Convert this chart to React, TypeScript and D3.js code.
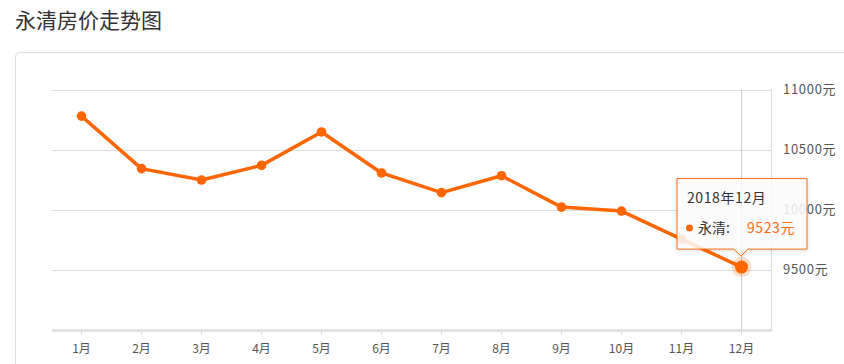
import React, { useRef, useEffect } from "react";
import * as d3 from "d3";

const months = ["1月", "2月", "3月", "4月", "5月", "6月", "7月", "8月", "9月", "10月", "11月", "12月"];
const prices = [10779, 10342, 10247, 10369, 10647, 10306, 10142, 10283, 10022, 9989, 9756, 9523];
const yTicks = [9500, 10000, 10500, 11000];
const cityName = "永清";
const tooltipTitle = "2018年12月";

const WIDTH = 844;
const HEIGHT = 364;
const ORANGE = "#ff6600";
const FONT = "'Noto Sans CJK SC', 'Noto Sans', sans-serif";

export default function App() {
  const ref = useRef<SVGSVGElement | null>(null);

  useEffect(() => {
    const root = d3.select(ref.current);
    root.selectAll("*").remove();
    root.attr("width", WIDTH).attr("height", HEIGHT);

    // title + card frame
    root
      .append("text")
      .attr("x", 15)
      .attr("y", 28)
      .attr("fill", "#333")
      .style("font-size", "21px")
      .text("永清房价走势图");
    root
      .append("rect")
      .attr("x", 15.5)
      .attr("y", 52.5)
      .attr("width", 900)
      .attr("height", 400)
      .attr("rx", 4)
      .attr("fill", "#fff")
      .attr("stroke", "#ddd");

    // scales
    const x = d3.scaleBand<string>().domain(months).range([51.5, 771.5]);
    const cx = (m: string) => (x(m) ?? 0) + x.bandwidth() / 2;
    const y = d3.scaleLinear().domain([9000, 11000]).range([330, 89.5]);

    // grid lines
    root
      .append("g")
      .selectAll("line")
      .data(yTicks)
      .enter()
      .append("line")
      .attr("x1", 52)
      .attr("x2", 771)
      .attr("y1", (d) => Math.round(y(d)) + 0.5)
      .attr("y2", (d) => Math.round(y(d)) + 0.5)
      .attr("stroke", "#ddd");
    root
      .append("line")
      .attr("x1", 771.5)
      .attr("x2", 771.5)
      .attr("y1", y(11000))
      .attr("y2", y(9000))
      .attr("stroke", "#ddd");

    // y labels on the right
    root
      .append("g")
      .selectAll("text")
      .data(yTicks)
      .enter()
      .append("text")
      .attr("x", 783)
      .attr("y", (d) => y(d) + 4.5)
      .attr("fill", "#555")
      .style("font-size", "13px")
      .style("letter-spacing", "0.7px")
      .text((d) => `${d}元`);

    // x axis
    const xAxis = root
      .append("g")
      .attr("transform", `translate(0,${y(9000)})`)
      .call(d3.axisBottom(x).tickSize(5).tickSizeOuter(0) as any);
    xAxis.select(".domain").attr("stroke", "#ddd").attr("stroke-width", 2.5);
    xAxis.selectAll(".tick line").attr("stroke", "#ddd");
    xAxis
      .selectAll(".tick text")
      .attr("y", 14)
      .attr("fill", "#555")
      .style("font-size", "12px")
      .style("font-family", FONT);

    // crosshair on hovered point
    const last = months.length - 1;
    const hx = Math.round(cx(months[last])) - 0.5;
    root
      .append("line")
      .attr("x1", hx)
      .attr("x2", hx)
      .attr("y1", y(11000))
      .attr("y2", y(9000))
      .attr("stroke", "#ccc");

    // line + points
    const line = d3
      .line<number>()
      .x((d, i) => cx(months[i]))
      .y((d) => y(d));
    root
      .append("path")
      .datum(prices)
      .attr("fill", "none")
      .attr("stroke", ORANGE)
      .attr("stroke-width", 3.5)
      .attr("stroke-linejoin", "round")
      .attr("d", line);
    root
      .append("g")
      .selectAll("circle")
      .data(prices)
      .enter()
      .append("circle")
      .attr("cx", (d, i) => cx(months[i]))
      .attr("cy", (d) => y(d))
      .attr("r", 4.8)
      .attr("fill", ORANGE);

    // highlighted point
    const px = cx(months[last]);
    const py = y(prices[last]);
    root
      .append("circle")
      .attr("cx", px)
      .attr("cy", py)
      .attr("r", 10)
      .attr("fill", ORANGE)
      .attr("fill-opacity", 0.22);
    root
      .append("circle")
      .attr("cx", px)
      .attr("cy", py)
      .attr("r", 6.5)
      .attr("fill", ORANGE);

    // tooltip
    const tx = px - 0.5;
    const left = tx - 64;
    const right = tx + 66;
    const bottom = py - 18;
    const top = bottom - 70.5;
    const tip = root.append("g");
    tip
      .append("path")
      .attr(
        "d",
        `M${left},${top}H${right}V${bottom}H${tx + 7}L${tx},${bottom + 7}L${tx - 7},${bottom}H${left}Z`,
      )
      .attr("fill", "#fff")
      .attr("fill-opacity", 0.85)
      .attr("stroke", "#ff6a13")
      .style("filter", "drop-shadow(0 1px 2px rgba(0,0,0,0.15))");
    tip
      .append("text")
      .attr("x", left + 10)
      .attr("y", top + 24.5)
      .attr("fill", "#333")
      .style("font-size", "14px")
      .style("letter-spacing", "0.6px")
      .text(tooltipTitle);
    tip
      .append("circle")
      .attr("cx", left + 12.5)
      .attr("cy", top + 49.5)
      .attr("r", 3.5)
      .attr("fill", ORANGE);
    tip
      .append("text")
      .attr("x", left + 21)
      .attr("y", top + 54)
      .attr("fill", "#333")
      .style("font-size", "14px")
      .text(`${cityName}:`);
    tip
      .append("text")
      .attr("x", left + 70)
      .attr("y", top + 54)
      .attr("fill", "#ff6a13")
      .style("font-size", "14px")
      .style("letter-spacing", "0.6px")
      .text(`${prices[last]}元`);
  }, []);

  return (
    <svg
      ref={ref}
      style={{ position: "absolute", left: 0, top: 0, fontFamily: FONT, background: "#fff" }}
    />
  );
}
